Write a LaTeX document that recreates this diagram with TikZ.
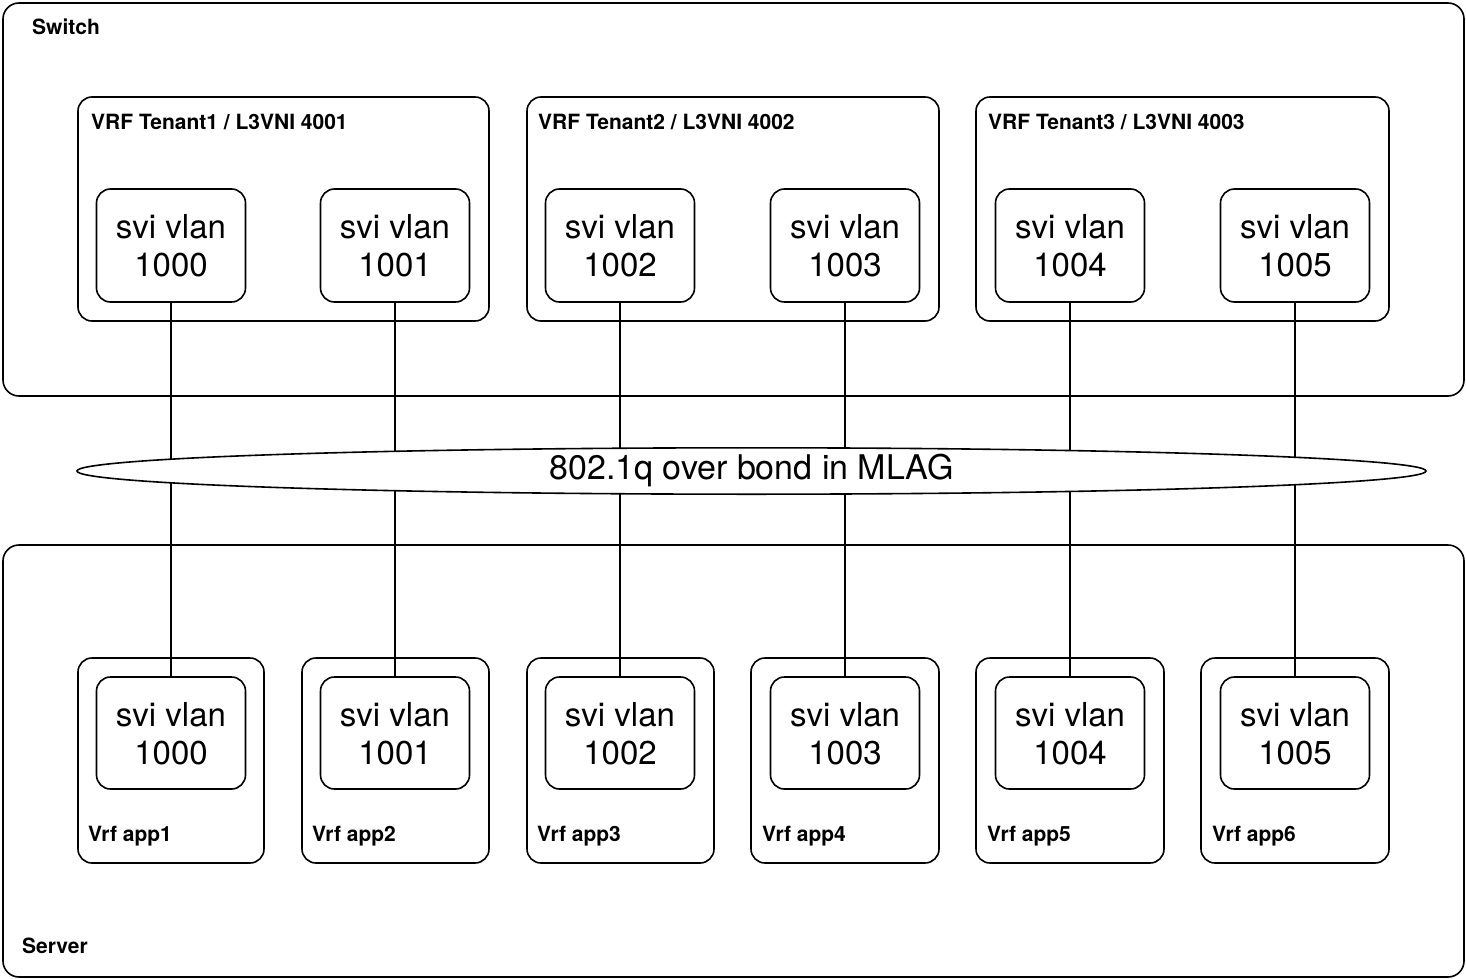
\documentclass[tikz,border=0pt]{standalone}
\usepackage{fontspec}
\setmainfont{TeX Gyre Heros}
\usetikzlibrary{positioning, shapes.geometric}

\begin{document}
\begin{tikzpicture}[
        x=1pt, y=-1pt,
        every node/.style={inner sep=0pt},
        group/.style={rectangle, rounded corners=16pt, draw=black, line width=1.6pt},
        vrfbox/.style={rectangle, rounded corners=14pt, draw=black, line width=1.6pt, minimum height=224pt},
        appbox/.style={rectangle, rounded corners=14pt, draw=black, line width=1.6pt, minimum height=205pt},
        svibox/.style={rectangle, rounded corners=14pt, draw=black, line width=1.6pt,
            minimum width=149pt, minimum height=113pt, align=center, text depth=-3pt,
            font=\fontsize{33}{38}\selectfont},
        tag/.style={font=\fontsize{21}{24}\selectfont\bfseries, anchor=base west},
        link/.style={line width=1.5pt},
        bond/.style={ellipse, draw=black, fill=white, line width=1.6pt,
            minimum width=1349pt, minimum height=38pt,
            font=\fontsize{34}{38}\selectfont},
    ]
        \useasboundingbox (0,0) rectangle (1466,979);

        % outer groups
        \node (switch) [group, minimum width=1461pt, minimum height=393pt] at (733.5,199.5) {};
        \node (server) [group, minimum width=1461pt, minimum height=432pt] at (733.5,761) {};
        \node [tag] at (32,35) {Switch};
        \node [tag] at (22,953) {Server};

        % tenant VRFs on the switch
        \node (vrf1) [vrfbox, minimum width=411pt] at (283.5,209) {};
        \node (vrf2) [vrfbox, minimum width=412pt] at (733,209) {};
        \node (vrf3) [vrfbox, minimum width=413pt] at (1182.5,209) {};
        \node [tag] at (91,129) {VRF Tenant1 / L3VNI 4001};
        \node [tag] at (538,129) {VRF Tenant2 / L3VNI 4002};
        \node [tag] at (988,129) {VRF Tenant3 / L3VNI 4003};

        \node (sw1000) [svibox] at (171,245.5) {svi vlan\\1000};
        \node (sw1001) [svibox] at (395,245.5) {svi vlan\\1001};
        \node (sw1002) [svibox] at (620,245.5) {svi vlan\\1002};
        \node (sw1003) [svibox] at (845,245.5) {svi vlan\\1003};
        \node (sw1004) [svibox] at (1070,245.5) {svi vlan\\1004};
        \node (sw1005) [svibox] at (1295,245.5) {svi vlan\\1005};

        % app VRFs on the server
        \node (app1) [appbox, minimum width=186pt] at (171,760.5) {};
        \node (app2) [appbox, minimum width=187pt] at (395.5,760.5) {};
        \node (app3) [appbox, minimum width=187pt] at (620.5,760.5) {};
        \node (app4) [appbox, minimum width=188pt] at (845,760.5) {};
        \node (app5) [appbox, minimum width=188pt] at (1070,760.5) {};
        \node (app6) [appbox, minimum width=188pt] at (1295,760.5) {};
        \node [tag] at (88,841) {Vrf app1};
        \node [tag] at (312,841) {Vrf app2};
        \node [tag] at (537,841) {Vrf app3};
        \node [tag] at (762,841) {Vrf app4};
        \node [tag] at (987,841) {Vrf app5};
        \node [tag] at (1212,841) {Vrf app6};

        \node (sv1000) [svibox, minimum height=112pt] at (171,733) {svi vlan\\1000};
        \node (sv1001) [svibox, minimum height=112pt] at (395,733) {svi vlan\\1001};
        \node (sv1002) [svibox, minimum height=112pt] at (620,733) {svi vlan\\1002};
        \node (sv1003) [svibox, minimum height=112pt] at (845,733) {svi vlan\\1003};
        \node (sv1004) [svibox, minimum height=112pt] at (1070,733) {svi vlan\\1004};
        \node (sv1005) [svibox, minimum height=112pt] at (1295,733) {svi vlan\\1005};

        % trunk links
        \draw [link] (sw1000) -- (sv1000);
        \draw [link] (sw1001) -- (sv1001);
        \draw [link] (sw1002) -- (sv1002);
        \draw [link] (sw1003) -- (sv1003);
        \draw [link] (sw1004) -- (sv1004);
        \draw [link] (sw1005) -- (sv1005);

        \node (bond) [bond] at (751.5,471) {802.1q over bond in MLAG};
    \end{tikzpicture}
\end{document}
